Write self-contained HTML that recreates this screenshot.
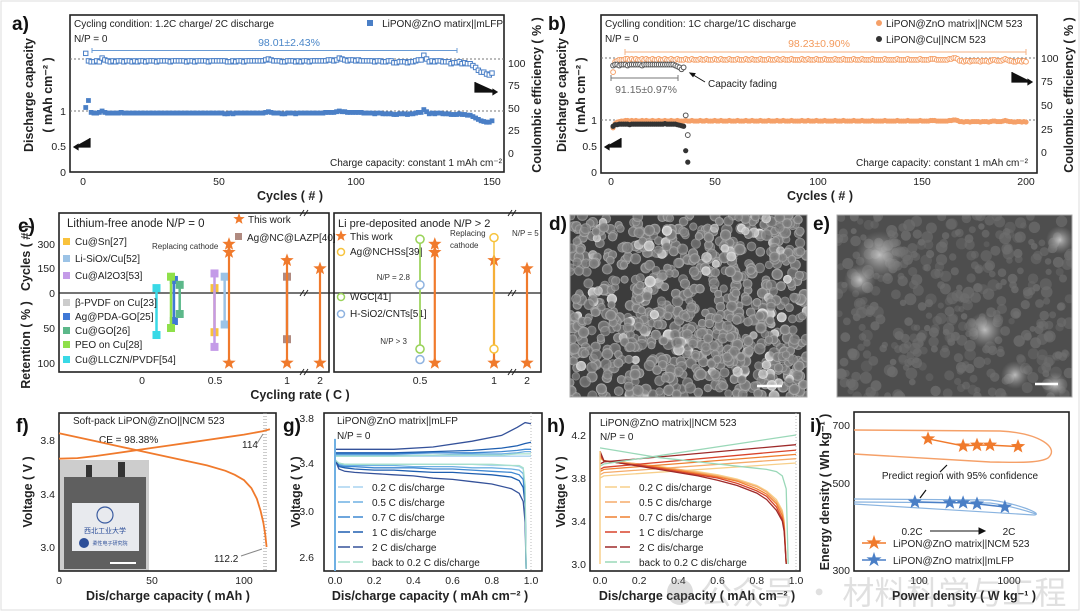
<!DOCTYPE html>
<html><head><meta charset="utf-8">
<style>
html,body{margin:0;padding:0;background:#fff;}
svg{display:block;font-family:"Liberation Sans","Noto Sans CJK SC",sans-serif;}
.t{font-size:10px;fill:#222;}
.tk{font-size:10.5px;fill:#222;}
.ti{font-size:12.5px;font-weight:bold;fill:#222;}
.pl{font-size:19px;font-weight:bold;fill:#111;}
.box{fill:none;stroke:#222;stroke-width:1.6;}
</style></head>
<body>
<svg id="fig" width="1080" height="611" viewBox="0 0 1080 611" xmlns="http://www.w3.org/2000/svg">
<defs>
<clipPath id="clipD"><rect x="570" y="215" width="237" height="182"/></clipPath>
<clipPath id="clipE"><rect x="837" y="215" width="235" height="182"/></clipPath>
<radialGradient id="ball" cx="50%" cy="50%" r="50%"><stop offset="0" stop-color="#767676"/><stop offset="0.7" stop-color="#828282"/><stop offset="1" stop-color="#b4b4b4"/></radialGradient>
<radialGradient id="ballB" cx="50%" cy="50%" r="50%"><stop offset="0" stop-color="#b9b9b9"/><stop offset="0.7" stop-color="#cacaca"/><stop offset="1" stop-color="#efefef"/></radialGradient>
<radialGradient id="blob" cx="50%" cy="50%" r="50%"><stop offset="0" stop-color="#d8d8d8"/><stop offset="1" stop-color="#9a9a9a" stop-opacity="0"/></radialGradient>
</defs>
<rect x="1" y="1" width="1078" height="609" fill="#fff" stroke="#ddd"/>

<!-- Panel a -->
<g>
<text class="pl" x="12" y="30">a)</text>
<rect class="box" x="70" y="15" width="434" height="157"/>
<line x1="70" y1="59" x2="504" y2="59" stroke="#777" stroke-dasharray="2,2"/>
<line x1="70" y1="111" x2="504" y2="111" stroke="#777" stroke-dasharray="2,2"/>
<text class="t" x="74" y="27">Cycling condition: 1.2C charge/ 2C discharge</text>
<text class="t" x="74" y="42">N/P = 0</text>
<rect x="367" y="20" width="6" height="6" fill="#4a7fc6"/>
<text class="t" x="503" y="27" text-anchor="end">LiPON@ZnO matirx||mLFP</text>
<text x="289" y="46" font-size="10.5" fill="#4a86c8" text-anchor="middle">98.01±2.43%</text>
<path d="M92,48V53M92,50.5H457M457,48V53" stroke="#6a9bd4" fill="none"/>
<text class="t" x="502" y="166" text-anchor="end">Charge capacity: constant 1 mAh cm⁻²</text>
<path d="M90,138V147H74M74,147l4,-2.5v5z" stroke="#111" fill="#111" stroke-width="1.2"/>
<path d="M475,82V92H497M497,92l-4,-2.5v5z" stroke="#111" fill="#111" stroke-width="1.2"/>
<text class="tk" x="66" y="115" text-anchor="end">1</text>
<text class="tk" x="66" y="150" text-anchor="end">0.5</text>
<text class="tk" x="66" y="176" text-anchor="end">0</text>
<text class="tk" x="508" y="67">100</text>
<text class="tk" x="508" y="89">75</text>
<text class="tk" x="508" y="112">50</text>
<text class="tk" x="508" y="134">25</text>
<text class="tk" x="508" y="157">0</text>
<text class="tk" x="83" y="185" text-anchor="middle">0</text>
<text class="tk" x="219" y="185" text-anchor="middle">50</text>
<text class="tk" x="356" y="185" text-anchor="middle">100</text>
<text class="tk" x="492" y="185" text-anchor="middle">150</text>
<text class="ti" x="290" y="200" text-anchor="middle">Cycles ( # )</text>
<text class="ti" transform="translate(33,95) rotate(-90)" text-anchor="middle">Discharge capacity</text>
<text class="ti" transform="translate(52,95) rotate(-90)" text-anchor="middle">( mAh cm⁻² )</text>
<text class="ti" transform="translate(541,95) rotate(-90)" text-anchor="middle">Coulombic efficiency ( % )</text>
<g id="gA"></g>
</g>

<!-- Panel b -->
<g>
<text class="pl" x="548" y="30">b)</text>
<rect class="box" x="601" y="15" width="436" height="158"/>
<line x1="601" y1="58" x2="1037" y2="58" stroke="#777" stroke-dasharray="2,2"/>
<line x1="601" y1="120" x2="1037" y2="120" stroke="#777" stroke-dasharray="2,2"/>
<text class="t" x="605" y="27">Cyclling condition: 1C charge/1C discharge</text>
<text class="t" x="605" y="42">N/P = 0</text>
<circle cx="879" cy="23" r="3" fill="#f5a068"/>
<text class="t" x="886" y="27">LiPON@ZnO matrix||NCM 523</text>
<circle cx="879" cy="39" r="3" fill="#333"/>
<text class="t" x="886" y="43">LiPON@Cu||NCM 523</text>
<text x="819" y="47" font-size="10.5" fill="#f39a5c" text-anchor="middle">98.23±0.90%</text>
<path d="M625,49V55M625,52H1026M1026,49V55" stroke="#f5b283" fill="none"/>
<path d="M611,75V81M611,78H678M678,75V81" stroke="#777" fill="none"/>
<text x="646" y="93" font-size="10.5" fill="#666" text-anchor="middle">91.15±0.97%</text>
<text class="t" x="708" y="87">Capacity fading</text>
<path d="M705,82L690,73M690,73l5,0.5l-2,3z" stroke="#111" fill="#111"/>
<text class="t" x="1028" y="166" text-anchor="end">Charge capacity: constant 1 mAh cm⁻²</text>
<path d="M621,138V147H605M605,147l4,-2.5v5z" stroke="#111" fill="#111" stroke-width="1.2"/>
<path d="M1012,72V82H1032M1032,82l-4,-2.5v5z" stroke="#111" fill="#111" stroke-width="1.2"/>
<text class="tk" x="597" y="124" text-anchor="end">1</text>
<text class="tk" x="597" y="150" text-anchor="end">0.5</text>
<text class="tk" x="597" y="176" text-anchor="end">0</text>
<text class="tk" x="1041" y="62">100</text>
<text class="tk" x="1041" y="85">75</text>
<text class="tk" x="1041" y="109">50</text>
<text class="tk" x="1041" y="133">25</text>
<text class="tk" x="1041" y="156">0</text>
<text class="tk" x="611" y="185" text-anchor="middle">0</text>
<text class="tk" x="715" y="185" text-anchor="middle">50</text>
<text class="tk" x="818" y="185" text-anchor="middle">100</text>
<text class="tk" x="922" y="185" text-anchor="middle">150</text>
<text class="tk" x="1026" y="185" text-anchor="middle">200</text>
<text class="ti" x="820" y="200" text-anchor="middle">Cycles ( # )</text>
<text class="ti" transform="translate(566,95) rotate(-90)" text-anchor="middle">Discharge capacity</text>
<text class="ti" transform="translate(585,95) rotate(-90)" text-anchor="middle">( mAh cm⁻² )</text>
<text class="ti" transform="translate(1073,95) rotate(-90)" text-anchor="middle">Coulombic efficiency ( % )</text>
<g id="gB"></g>
</g>

<!-- Panel c -->
<g>
<text class="pl" x="18" y="232">c)</text>
<rect class="box" x="59" y="213" width="270" height="159"/>
<rect class="box" x="334" y="213" width="207" height="159"/>
<line x1="59" y1="293" x2="541" y2="293" stroke="#222" stroke-width="1.2"/>
<g stroke="#222" stroke-width="1" fill="none">
<path d="M300,216l4,-6M304,216l4,-6M300,296l4,-6M304,296l4,-6M300,375l4,-6M304,375l4,-6"/>
<path d="M508,216l4,-6M512,216l4,-6M508,296l4,-6M512,296l4,-6M508,375l4,-6M512,375l4,-6"/>
</g>
<text x="67" y="227" font-size="11.5" fill="#222">Lithium-free anode N/P = 0</text>
<text x="338" y="227" font-size="11" fill="#222">Li pre-deposited anode N/P &gt; 2</text>
<text class="tk" x="55" y="248" text-anchor="end">300</text>
<text class="tk" x="55" y="272" text-anchor="end">150</text>
<text class="tk" x="55" y="297" text-anchor="end">0</text>
<text class="tk" x="55" y="332" text-anchor="end">50</text>
<text class="tk" x="55" y="367" text-anchor="end">100</text>
<text class="ti" transform="translate(30,258) rotate(-90)" text-anchor="middle">Cycles ( # )</text>
<text class="ti" transform="translate(30,345) rotate(-90)" text-anchor="middle">Retention ( % )</text>
<text class="tk" x="142" y="384" text-anchor="middle">0</text>
<text class="tk" x="215" y="384" text-anchor="middle">0.5</text>
<text class="tk" x="287" y="384" text-anchor="middle">1</text>
<text class="tk" x="320" y="384" text-anchor="middle">2</text>
<text class="tk" x="420" y="384" text-anchor="middle">0.5</text>
<text class="tk" x="494" y="384" text-anchor="middle">1</text>
<text class="tk" x="527" y="384" text-anchor="middle">2</text>
<text class="ti" x="300" y="399" text-anchor="middle">Cycling rate ( C )</text>
<text x="152" y="249" font-size="8" fill="#333">Replacing cathode</text>
<text x="450" y="236" font-size="8" fill="#333">Replacing</text>
<text x="450" y="248" font-size="8" fill="#333">cathode</text>
<text x="410" y="280" font-size="8" fill="#333" text-anchor="end">N/P = 2.8</text>
<text x="407" y="344" font-size="8" fill="#333" text-anchor="end">N/P &gt; 3</text>
<text x="512" y="236" font-size="8" fill="#333">N/P = 5</text>
<g id="gC"></g>
</g>

<!-- Panel d / e -->
<text class="pl" x="549" y="230">d)</text>
<g id="gD" clip-path="url(#clipD)"><rect x="570" y="215" width="237" height="182" fill="#3c3c3c"/></g>
<rect x="570" y="215" width="237" height="182" fill="none" stroke="#aaa"/>
<line x1="757" y1="386" x2="782" y2="386" stroke="#fff" stroke-width="2.5"/>
<text class="pl" x="813" y="230">e)</text>
<g id="gE" clip-path="url(#clipE)"><rect x="837" y="215" width="235" height="182" fill="#4e4e4e"/></g>
<rect x="837" y="215" width="235" height="182" fill="none" stroke="#aaa"/>
<line x1="1035" y1="384" x2="1058" y2="384" stroke="#fff" stroke-width="2.5"/>

<!-- Panel f -->
<g>
<text class="pl" x="16" y="432">f)</text>
<g>
<rect x="60" y="460" width="89" height="111" fill="#cdcdcd"/>
<rect x="86" y="465" width="6" height="14" fill="#333"/>
<rect x="118" y="462" width="7" height="17" fill="#333"/>
<rect x="64" y="477" width="82" height="92" fill="#5f5f5f"/>
<rect x="72" y="503" width="67" height="48" fill="#e8eaee"/>
<circle cx="105" cy="515" r="8" fill="none" stroke="#3b5ca0" stroke-width="1.2"/>
<text x="105" y="533" font-size="7" fill="#2d4f99" text-anchor="middle">西北工业大学</text>
<circle cx="84" cy="543" r="5" fill="#2d4f99"/>
<text x="110" y="545" font-size="5" fill="#2d4f99" text-anchor="middle">柔性电子研究院</text>
<line x1="110" y1="563" x2="136" y2="563" stroke="#fff" stroke-width="2"/>
</g>
<rect class="box" x="59" y="413" width="217" height="158"/>
<line x1="266" y1="413" x2="266" y2="571" stroke="#999" stroke-dasharray="1,2"/>
<line x1="264" y1="413" x2="264" y2="571" stroke="#999" stroke-dasharray="1,2"/>
<text class="t" x="73" y="424">Soft-pack LiPON@ZnO||NCM 523</text>
<text class="t" x="99" y="443">CE = 98.38%</text>
<text class="t" x="242" y="448">114</text>
<text class="t" x="214" y="562">112.2</text>
<path d="M256,445L263,434M241,556L262,549" stroke="#888" fill="none"/>
<text class="tk" x="55" y="444" text-anchor="end">3.8</text>
<text class="tk" x="55" y="498" text-anchor="end">3.4</text>
<text class="tk" x="55" y="551" text-anchor="end">3.0</text>
<text class="tk" x="59" y="584" text-anchor="middle">0</text>
<text class="tk" x="152" y="584" text-anchor="middle">50</text>
<text class="tk" x="244" y="584" text-anchor="middle">100</text>
<text class="ti" x="168" y="600" text-anchor="middle">Dis/charge capacity ( mAh )</text>
<text class="ti" transform="translate(32,492) rotate(-90)" text-anchor="middle">Voltage ( V )</text>
<g id="gF"></g>
</g>

<!-- Panel g -->
<g>
<text class="pl" x="283" y="432">g)</text>
<rect class="box" x="324" y="413" width="218" height="158"/>
<line x1="531" y1="413" x2="531" y2="571" stroke="#bbb" stroke-dasharray="1,2"/>
<text class="t" x="337" y="424">LiPON@ZnO matrix||mLFP</text>
<text class="t" x="337" y="439">N/P = 0</text>
<text class="tk" x="314" y="422" text-anchor="end">3.8</text>
<text class="tk" x="314" y="467" text-anchor="end">3.4</text>
<text class="tk" x="314" y="515" text-anchor="end">3.0</text>
<text class="tk" x="314" y="561" text-anchor="end">2.6</text>
<text class="ti" x="430" y="600" text-anchor="middle">Dis/charge capacity ( mAh cm⁻² )</text>
<text class="ti" transform="translate(300,492) rotate(-90)" text-anchor="middle">Voltage ( V )</text>
<g id="gG"></g>
</g>

<!-- Panel h -->
<g>
<text class="pl" x="547" y="432">h)</text>
<rect class="box" x="590" y="413" width="210" height="158"/>
<line x1="796" y1="413" x2="796" y2="571" stroke="#bbb" stroke-dasharray="1,2"/>
<text class="t" x="600" y="426">LiPON@ZnO matrix||NCM 523</text>
<text class="t" x="600" y="440">N/P = 0</text>
<text class="tk" x="586" y="439" text-anchor="end">4.2</text>
<text class="tk" x="586" y="482" text-anchor="end">3.8</text>
<text class="tk" x="586" y="525" text-anchor="end">3.4</text>
<text class="tk" x="586" y="568" text-anchor="end">3.0</text>
<text class="ti" x="697" y="600" text-anchor="middle">Dis/charge capacity ( mAh cm⁻² )</text>
<text class="ti" transform="translate(565,492) rotate(-90)" text-anchor="middle">Voltage ( V )</text>
<g id="gH"></g>
</g>

<!-- Panel i -->
<g>
<text class="pl" x="810" y="432">i)</text>
<rect class="box" x="854" y="412" width="215" height="159"/>
<path d="M854,430L1000,431C1040,433 1060,448 1048,458C1038,464 1010,462 990,462L854,454" fill="none" stroke="#f5a068" stroke-width="1.4"/>
<path d="M854,499L990,500C1015,503 1045,514 1034,515L854,504M854,502L990,503C1012,506 1030,512 1036,514" fill="none" stroke="#8ab4e0" stroke-width="1.2"/>
<text class="t" x="960" y="479" text-anchor="middle">Predict region with 95% confidence</text>
<path d="M947,465L940,472M926,490L920,498" stroke="#111" stroke-width="1.2"/>
<text class="t" x="912" y="535" text-anchor="middle">0.2C</text>
<path d="M930,531H980M985,531l-6,-3v6z" stroke="#111" fill="#111"/>
<text class="t" x="1009" y="535" text-anchor="middle">2C</text>
<text x="874" y="548" font-size="16" fill="#f07a2c" text-anchor="middle">★</text>
<line x1="862" y1="543" x2="886" y2="543" stroke="#f07a2c" stroke-width="1.5"/>
<text class="t" x="893" y="547">LiPON@ZnO matrix||NCM 523</text>
<text x="874" y="565" font-size="16" fill="#4a7fc6" text-anchor="middle">★</text>
<line x1="862" y1="560" x2="886" y2="560" stroke="#4a7fc6" stroke-width="1.5"/>
<text class="t" x="893" y="564">LiPON@ZnO matrix||mLFP</text>
<text class="tk" x="850" y="429" text-anchor="end">700</text>
<text class="tk" x="850" y="487" text-anchor="end">500</text>
<text class="tk" x="850" y="574" text-anchor="end">300</text>
<text class="tk" x="919" y="584" text-anchor="middle">100</text>
<text class="tk" x="1009" y="584" text-anchor="middle">1000</text>
<text class="ti" x="964" y="600" text-anchor="middle">Power density ( W kg⁻¹ )</text>
<text class="ti" transform="translate(829,492) rotate(-90)" text-anchor="middle">Energy density ( Wh kg⁻¹ )</text>
<g id="gI"></g>
</g>

<g opacity="0.25">
<circle cx="680" cy="592" r="13" fill="#777"/>
<text x="700" y="604" font-size="32" fill="#888" font-family="'Noto Sans CJK SC',sans-serif">公众号 · 材料科学与工程</text>
</g>
</svg>

<script>
// ---------- Panel a data ----------
const aCE = [106,98,97,97,98,97,101,99,98,97, 98,97,98,98,97,98,98,97,98,97, 98,98,97,98,98,98,97,98,98,98,
 98,97,98,98,98,98,98,97,98,98, 97,98,98,98,98,97,98,98,98,98, 98,98,97,97,98,97,98,98,97,98,
 98,98,98,98,98,98,99,100,99,98, 98,98,97,97,98,98,98,97,98,97, 98,98,97,98,98,98,98,98,98,99,
 99,98,99,101,100,99,98,99,99,98, 99,98,98,98,98,98,97,98,98,97, 97,98,98,96,96,97,97,97,96,97,
 97,98,99,99,104,100,97,98,97,98, 98,97,97,97,95,96,96,97,95,96, 95,95,93,91,88,86,86,84,83,85];
const aCap = [1.05,1.15,0.98,0.97,0.97,0.98,1.0,0.98,0.97,0.97, .97,.97,.97,.98,.97,.97,.97,.97,.97,.97,
 .97,.97,.97,.97,.97,.97,.97,.97,.97,.97, .97,.97,.97,.97,.97,.97,.97,.97,.97,.97, .97,.97,.97,.97,.97,.97,.97,.97,.97,.97,
 .97,.96,.96,.97,.96,.97,.97,.97,.97,.97, .97,.97,.97,.97,.97,.97,.98,.99,.98,.97, .97,.97,.96,.96,.97,.97,.97,.96,.97,.97,
 .97,.97,.97,.97,.97,.97,.97,.97,.98,.98, .98,.98,.99,1.0,.99,.99,.98,.98,.98,.98, .98,.98,.97,.97,.97,.97,.96,.97,.97,.96,
 .96,.96,.96,.95,.95,.96,.96,.96,.95,.96, .96,.97,.98,.98,1.02,.99,.96,.97,.96,.97, .97,.96,.96,.96,.95,.95,.95,.96,.95,.95,
 .94,.94,.92,.90,.88,.86,.85,.84,.84,.86];
// ---------- Panel b data ----------
const bCEzno = [85,96,97,98,98,98,99,99,98,99, 98,99,98,98,99,98,99,98,98,99, 98,98,99,98,98,99,98,98,99,98,
 98,99,98,98,98,99,98,98,99,98, 98,98,99,98,98,99,98,98,98,99, 98,98,99,98,98,98,99,98,98,98,
 99,98,98,98,99,98,98,99,98,98, 98,99,98,98,98,99,98,98,98,99, 98,98,99,98,98,98,99,98,98,98,
 98,99,98,98,99,98,98,98,99,98, 98,98,99,98,98,98,98,99,98,98, 98,99,98,98,98,98,99,98,98,98,
 99,98,98,98,98,99,98,98,98,98, 98,99,98,98,98,98,98,99,98,98, 98,98,99,98,98,98,98,98,99,98,
 98,98,98,99,99,99,98,98,98,98, 98,98,99,99,100,100,99,97,97,96, 97,97,96,97,97,97,97,96,97,97,
 97,96,97,98,98,97,97,97,98,99, 98,97,97,96,96,97,97,96,97,96];
const bCapZno = [0.85,0.93,0.96,0.97,0.98,0.98,0.99,0.99,0.98,0.99, .98,.99,.98,.98,.99,.98,.99,.98,.98,.99,
 .98,.98,.99,.98,.98,.99,.98,.98,.99,.98, .98,.99,.98,.98,.98,.99,.98,.98,.99,.98, .98,.98,.99,.98,.98,.99,.98,.98,.98,.99,
 .98,.98,.99,.98,.98,.98,.99,.98,.98,.98, .99,.98,.98,.98,.99,.98,.98,.99,.98,.98, .98,.99,.98,.98,.98,.99,.98,.98,.98,.99,
 .98,.98,.99,.98,.98,.98,.99,.98,.98,.98, .98,.99,.98,.98,.99,.98,.98,.98,.99,.98, .98,.98,.99,.98,.98,.98,.98,.99,.98,.98,
 .98,.99,.98,.98,.98,.98,.99,.98,.98,.98, .99,.98,.98,.98,.98,.99,.98,.98,.98,.98, .98,.99,.98,.98,.98,.98,.98,.99,.98,.98,
 .98,.98,.99,.98,.98,.98,.98,.98,.99,.98, .98,.98,.98,.99,.99,.99,.98,.98,.98,.98, .98,.98,.99,.99,1.0,1.0,.99,.97,.97,.96,
 .97,.97,.96,.97,.97,.97,.97,.96,.97,.97, .97,.96,.97,.98,.98,.97,.97,.97,.98,.99, .98,.97,.97,.96,.96,.97,.97,.96,.97,.96];
const bCEcu = [92,93,93,92,93,93,93,92,93,93, 93,93,93,93,92,93,93,93,93,93, 93,93,93,93,93,93,93,93,93,93, 92,91,90,88,90,39,18];
const bCapCu = [0.88,0.91,0.91,0.92,0.92,0.92,0.92,0.92,0.91,0.92, 0.92,0.92,0.92,0.92,0.92,0.92,0.92,0.92,0.92,0.92,
 0.92,0.92,0.92,0.92,0.92,0.93,0.92,0.92,0.92,0.92, 0.92,0.91,0.90,0.89,0.88,0.41,0.19];
// ---------- Panel c data ----------
const refNames = ["Cu@Sn[27]","Li-SiOx/Cu[52]","Cu@Al2O3[53]","β-PVDF on Cu[23]","Ag@PDA-GO[25]","Cu@GO[26]","PEO on Cu[28]","Cu@LLCZN/PVDF[54]","Ag@NC@LAZP[40]"];
const refRates = [0.5,0.57,0.5,0.22,0.22,0.26,0.2,0.1,1];
const refCycles = [30,100,120,80,80,50,100,30,100];
const refRetention = [56,45,77,40,40,30,50,60,66];
const refColors = ["#f9c23c","#9cc3e6","#c49be8","#cccccc","#3f78d6","#5cb88a","#8fe04a","#39d9e6","#b08a80"];
const refLegendY = [245,262,279,306,320,334,348,363];
const twRates = [0.6,0.6,1,2];
const twCycles = [300,250,200,150];
const twRetRates = [0.6,1,2];
const twRetention = [100,100,100];
const rRefNames = ["Ag@NCHSs[39]","WGC[41]","H-SiO2/CNTs[51]","Ag@NCHSs N/P=5"];
const rRefRates = [0.5,0.5,0.5,1];
const rRefCycles = [330,330,50,340];
const rRefRetention = [80,80,95,80];
const rRefColors = ["#9ad35a","#9ad35a","#8fb3e0","#f7c33c"];
// ---------- Panel f data ----------
const fChargeCap = [0,10,20,30,40,50,60,70,80,90,100,110,114];
const fChargeV = [3.66,3.665,3.68,3.70,3.72,3.74,3.76,3.78,3.80,3.82,3.84,3.865,3.88];
const fDisCap = [0,10,20,30,40,50,60,70,80,90,95,100,104,107,109,110.5,111.5,112.2];
const fDisV = [3.85,3.82,3.79,3.76,3.73,3.70,3.67,3.64,3.61,3.57,3.54,3.50,3.44,3.36,3.27,3.18,3.09,3.00];
// ---------- Panel g data ----------
const gRates = ["0.2 C dis/charge","0.5 C dis/charge","0.7 C dis/charge","1 C dis/charge","2 C dis/charge","back to 0.2 C dis/charge"];
const gDisCap = [0,0.02,0.05,0.1,0.2,0.3,0.4,0.5,0.6,0.7,0.8,0.9,0.94,0.96,0.97,0.975];
const gDisV = [
 [3.44,3.41,3.40,3.40,3.40,3.40,3.40,3.40,3.40,3.40,3.39,3.39,3.38,3.36,3.20,2.50],
 [3.44,3.40,3.39,3.39,3.39,3.39,3.38,3.38,3.38,3.37,3.37,3.36,3.35,3.32,3.15,2.50],
 [3.44,3.39,3.38,3.38,3.37,3.37,3.37,3.36,3.36,3.35,3.34,3.33,3.31,3.27,3.10,2.50],
 [3.44,3.38,3.37,3.36,3.35,3.35,3.34,3.33,3.33,3.32,3.31,3.29,3.26,3.20,3.05,2.50],
 [3.44,3.36,3.34,3.33,3.32,3.31,3.30,3.28,3.27,3.25,3.23,3.19,3.15,3.08,2.90,2.50],
 [3.44,3.41,3.40,3.40,3.40,3.40,3.40,3.40,3.40,3.40,3.40,3.39,3.39,3.37,3.22,2.50]];
const gChgCap = [0,0.02,0.1,0.3,0.5,0.7,0.85,0.93,0.97,1.0];
const gChgV = [
 [3.47,3.47,3.47,3.47,3.47,3.47,3.47,3.47,3.47,3.47],
 [3.48,3.48,3.48,3.48,3.48,3.49,3.49,3.50,3.51,3.51],
 [3.49,3.49,3.49,3.49,3.50,3.50,3.51,3.52,3.53,3.53],
 [3.50,3.50,3.50,3.50,3.51,3.52,3.54,3.56,3.58,3.59],
 [3.53,3.53,3.53,3.53,3.55,3.60,3.65,3.72,3.76,3.75],
 [3.47,3.47,3.47,3.47,3.48,3.48,3.48,3.49,3.49,3.49]];
// ---------- Panel h data ----------
const hRates = ["0.2 C dis/charge","0.5 C dis/charge","0.7 C dis/charge","1 C dis/charge","2 C dis/charge","back to 0.2 C dis/charge"];
const hDisCap = [0,0.02,0.1,0.2,0.3,0.4,0.5,0.6,0.7,0.8,0.85,0.9,0.93,0.94,0.95];
const hDisV = [
 [3.98,3.96,3.95,3.93,3.91,3.88,3.86,3.83,3.79,3.73,3.68,3.60,3.50,3.40,3.00],
 [3.99,3.96,3.95,3.93,3.90,3.88,3.85,3.82,3.78,3.72,3.67,3.58,3.48,3.38,3.00],
 [4.00,3.96,3.94,3.92,3.90,3.87,3.84,3.81,3.77,3.70,3.65,3.56,3.45,3.35,3.00],
 [4.02,3.96,3.94,3.92,3.89,3.86,3.83,3.80,3.75,3.68,3.63,3.53,3.42,3.32,3.00],
 [4.05,3.96,3.94,3.91,3.88,3.85,3.82,3.78,3.73,3.66,3.60,3.50,3.40,3.30,3.00]];
const hBackCap = [0,0.1,0.2,0.3,0.4,0.5,0.6,0.7,0.8,0.85,0.9,0.93,0.95,0.96];
const hBackV = [4.08,4.05,4.02,3.99,3.97,3.95,3.93,3.91,3.89,3.88,3.86,3.82,3.70,3.00];
const hChgCap = [0,0.02,1.0];
const hChgV = [
 [3.80,3.82,3.94],
 [3.83,3.85,3.98],
 [3.86,3.88,4.02],
 [3.88,3.90,4.06],
 [3.93,3.95,4.11],
 [3.91,3.93,4.20]];
// ---------- Panel i data ----------
const iPowerNCM = [126,309,441,615,1260];
const iEnergyNCM = [646,620,623,623,618];
const iPowerLFP = [90,220,309,441,900];
const iEnergyLFP = [448,446,446,443,435];

const NS = "http://www.w3.org/2000/svg";
function mk(tag, attrs, parent){const e=document.createElementNS(NS,tag);for(const k in attrs)e.setAttribute(k,attrs[k]);parent.appendChild(e);return e;}
function pathFrom(xs, ys, fx, fy){return xs.map((x,i)=>(i?"L":"M")+fx(x).toFixed(1)+","+fy(ys[i]).toFixed(1)).join("");}
function starPath(cx,cy,R){const r=R*0.42;let d="";for(let i=0;i<10;i++){const a=-Math.PI/2+i*Math.PI/5;const rr=i%2?r:R;d+=(i?"L":"M")+(cx+rr*Math.cos(a)).toFixed(1)+","+(cy+rr*Math.sin(a)).toFixed(1);}return d+"Z";}

// ---- Panel a
const gA = document.getElementById("gA");
const xA = c => 83 + c*(492-83)/150;
const yAcap = v => 111 + (1-v)*70;
const yAce = p => 59 + (100-p)*0.94;
aCE.forEach((v,i)=>{
  const m = mk("rect",{x:xA(i+1)-2.2,y:yAce(v)-2.2,width:4.4,height:4.4,fill:"#fff",stroke:"#4a7fc6","stroke-width":1},gA);
  
  
});
aCap.forEach((v,i)=>{
  const m = mk("rect",{x:xA(i+1)-2.4,y:yAcap(v)-2.4,width:4.8,height:4.8,fill:"#4a7fc6"},gA);
  
  
});

// ---- Panel b
const gB = document.getElementById("gB");
const xB = c => 611 + c*(1026-611)/200;
const yBcap = v => 120 + (1-v)*52;
const yBce = p => 58 + (100-p)*0.94;
bCEzno.forEach((v,i)=>{
  const m = mk("circle",{cx:xB(i+1),cy:yBce(v),r:2.4,fill:"#fff",stroke:"#f5a068","stroke-width":1},gB);
  
  
});
bCapZno.forEach((v,i)=>{
  const m = mk("circle",{cx:xB(i+1),cy:yBcap(v),r:2.6,fill:"#f5a068"},gB);
  
  
});
bCEcu.forEach((v,i)=>{
  const m = mk("circle",{cx:xB(i+1),cy:yBce(v),r:2.4,fill:"#fff",stroke:"#555","stroke-width":1},gB);
  
  
});
bCapCu.forEach((v,i)=>{
  const m = mk("circle",{cx:xB(i+1),cy:yBcap(v),r:2.6,fill:"#333"},gB);
  
  
});

// ---- Panel c
const gC = document.getElementById("gC");
const yCyc = n => 293 - n*0.163;
const yRet = r => 293 + r*0.7;
const xCL = r => r<=1 ? 142 + r*145 : 320;
const xCR = r => r<=1 ? 346 + r*148 : 527;
refRates.forEach((r,i)=>{
  const x = xCL(r);
  const ln = mk("line",{x1:x,y1:yCyc(refCycles[i]),x2:x,y2:yRet(refRetention[i]),stroke:refColors[i],"stroke-width":2.5},gC);
  
  
  [yCyc(refCycles[i]),yRet(refRetention[i])].forEach(y=>{
    const m = mk("rect",{x:x-4,y:y-4,width:8,height:8,fill:refColors[i]},gC);
    
    
  });
});
refLegendY.forEach((y,i)=>{
  const m = mk("rect",{x:63,y:y-7,width:7,height:7,fill:refColors[i]},gC);
  
  
  const t = mk("text",{x:75,y:y,"font-size":10,fill:"#222"},gC);
  t.textContent = refNames[i];
  
  
});
{
  const m = mk("rect",{x:235,y:233,width:7,height:7,fill:refColors[8]},gC);
  
  
  const t = mk("text",{x:247,y:241,"font-size":10,fill:"#222"},gC);
  t.textContent = refNames[8];
  
  
  const s = mk("path",{d:starPath(239,219,6),fill:"#f07a2c"},gC);
  
  
  const t2 = mk("text",{x:248,y:223,"font-size":10,fill:"#222"},gC);
  t2.textContent = "This work";
  
  
  const s2 = mk("path",{d:starPath(341,236,6),fill:"#f07a2c"},gC);
  
  
  const t3 = mk("text",{x:350,y:240,"font-size":10,fill:"#222"},gC);
  t3.textContent = "This work";
  
  
  const legR = [["#f7c33c",255,"Ag@NCHSs[39]"],["#9ad35a",300,"WGC[41]"],["#8fb3e0",317,"H-SiO2/CNTs[51]"]];
  legR.forEach(l=>{
    const c = mk("circle",{cx:341,cy:l[1]-3,r:3.5,fill:"#fff",stroke:l[0],"stroke-width":1.5},gC);
    
    
    const tt = mk("text",{x:350,y:l[1],"font-size":10,fill:"#222"},gC);
    tt.textContent = l[2];
    
    
  });
}
[[xCL,0],[xCR,1]].forEach(([fx,side])=>{
  twRetRates.forEach((r,i)=>{
    const top = Math.max(...twCycles.filter((c,k)=>twRates[k]===r));
    const ln = mk("line",{x1:fx(r),y1:yCyc(top),x2:fx(r),y2:yRet(twRetention[i]),stroke:"#f07a2c","stroke-width":2.2},gC);
    
    
    const s = mk("path",{d:starPath(fx(r),yRet(twRetention[i]),7),fill:"#f07a2c"},gC);
    
    
  });
  twRates.forEach((r,i)=>{
    const s = mk("path",{d:starPath(fx(r),yCyc(twCycles[i]),7),fill:"#f07a2c"},gC);
    
    
  });
});
rRefRates.forEach((r,i)=>{
  const x = xCR(r);
  if(i!==2){
    const ln = mk("line",{x1:x,y1:yCyc(rRefCycles[i]),x2:x,y2:yRet(rRefRetention[i]),stroke:rRefColors[i],"stroke-width":1.5},gC);
    
    
  }
  [yCyc(rRefCycles[i]),yRet(rRefRetention[i])].forEach(y=>{
    const m = mk("circle",{cx:x,cy:y,r:4,fill:"#fff",stroke:rRefColors[i],"stroke-width":1.5},gC);
    
    
  });
});

// ---- SEM images (texture, not data)
let seed = 7;
function rnd(){seed=(seed*16807)%2147483647;return (seed-1)/2147483646;}
const gD = document.getElementById("gD");
for(let i=0;i<850;i++){
  const x=570+rnd()*237, y=215+rnd()*182, br=rnd()>0.9;
  const c = mk("circle",{cx:x.toFixed(1),cy:y.toFixed(1),r:(4+rnd()*1.8).toFixed(1),fill:br?"url(#ballB)":"url(#ball)",opacity:(0.7+rnd()*0.3).toFixed(2)},gD);
  
  
}
const gE = document.getElementById("gE");
for(let i=0;i<420;i++){
  const x=837+rnd()*235, y=215+rnd()*182;
  const c = mk("circle",{cx:x.toFixed(1),cy:y.toFixed(1),r:(3+rnd()*3).toFixed(1),fill:"#6e6e6e",opacity:(0.4+rnd()*0.4).toFixed(2)},gE);
  
  
}
[[880,255,24],[985,330,18],[1015,375,14],[1055,385,13],[860,280,16],[1060,240,14]].forEach(b=>{
  const c = mk("circle",{cx:b[0],cy:b[1],r:b[2],fill:"url(#blob)",opacity:0.8},gE);
  
  
});

// ---- Panel f
const gF = document.getElementById("gF");
const xF = c => 59 + c*(244-59)/100;
const yF = v => 440 + (3.8-v)*(547-440)/0.8;
{
  const p1 = mk("path",{d:pathFrom(fChargeCap,fChargeV,xF,yF),fill:"none",stroke:"#f07a2c","stroke-width":1.8},gF);
  
  
  const p2 = mk("path",{d:pathFrom(fDisCap,fDisV,xF,yF),fill:"none",stroke:"#f07a2c","stroke-width":1.8},gF);
  
  
}

// ---- Panel g
const gG = document.getElementById("gG");
const xG = c => 335 + c*(531-335);
const yG = v => 418 + (3.8-v)*(557-418)/1.2;
const gCols = ["#a9d3f0","#6fb0e3","#3f88d2","#1f5fb0","#35529a","#a6e0cc"];
gRates.forEach((name,i)=>{
  const p = mk("path",{d:pathFrom(gDisCap,gDisV[i],xG,yG),fill:"none",stroke:gCols[i],"stroke-width":1.3},gG);
  
  
  const q = mk("path",{d:pathFrom(gChgCap,gChgV[i],xG,yG),fill:"none",stroke:gCols[i],"stroke-width":1.3},gG);
  
  
  const ly = 487 + i*15;
  const l = mk("path",{d:`M338,${ly}h12M353,${ly}h10`,stroke:gCols[i],"stroke-width":1.6,fill:"none"},gG);
  
  
  const t = mk("text",{x:372,y:ly+4,"font-size":10,fill:"#222"},gG);
  t.textContent = name;
  
  
});
{
  const v = mk("line",{x1:xG(0),y1:yG(3.62),x2:xG(0),y2:571,stroke:"#6fb0e3","stroke-width":2},gG);
  
  
}
["0.0","0.2","0.4","0.6","0.8","1.0"].forEach((s,i)=>{
  const t = mk("text",{x:xG(i*0.2),y:584,"font-size":10.5,fill:"#222","text-anchor":"middle"},gG);
  t.textContent = s;
  
  
});

// ---- Panel h
const gH = document.getElementById("gH");
const xH = c => 600 + c*(796-600);
const yH = v => 435 + (4.2-v)*(564-435)/1.2;
const hCols = ["#f7cf8a","#f5ab6a","#ef8030","#d9442b","#9e2a2a","#9ad8b8"];
hRates.forEach((name,i)=>{
  const q = mk("path",{d:pathFrom(hChgCap,hChgV[i],xH,yH),fill:"none",stroke:hCols[i],"stroke-width":1.3},gH);
  
  
  if(i<5){
    const p = mk("path",{d:pathFrom(hDisCap,hDisV[i],xH,yH),fill:"none",stroke:hCols[i],"stroke-width":1.3},gH);
    
    
  }
  const ly = 487 + i*15;
  const l = mk("path",{d:`M605,${ly}h12M620,${ly}h10`,stroke:hCols[i],"stroke-width":1.6,fill:"none"},gH);
  
  
  const t = mk("text",{x:639,y:ly+4,"font-size":10,fill:"#222"},gH);
  t.textContent = name;
  
  
});
{
  const p = mk("path",{d:pathFrom(hBackCap,hBackV,xH,yH),fill:"none",stroke:hCols[5],"stroke-width":1.3},gH);
  
  
  const v = mk("line",{x1:xH(0),y1:yH(4.05),x2:xH(0),y2:yH(3.0),stroke:"#f7cf8a","stroke-width":1.5},gH);
  
  
}
["0.0","0.2","0.4","0.6","0.8","1.0"].forEach((s,i)=>{
  const t = mk("text",{x:xH(i*0.2),y:584,"font-size":10.5,fill:"#222","text-anchor":"middle"},gH);
  t.textContent = s;
  
  
});

// ---- Panel i
const gI = document.getElementById("gI");
const xI = p => 919 + (Math.log10(p)-2)*90;
const yI = e => 425 + (Math.log10(700)-Math.log10(e))*397;
[[iPowerNCM,iEnergyNCM,"#f07a2c","ncm"],[iPowerLFP,iEnergyLFP,"#4a7fc6","lfp"]].forEach(([P,E,col,key])=>{
  const l = mk("path",{d:pathFrom(P,E,xI,yI),fill:"none",stroke:col,"stroke-width":1.5},gI);
  
  
  P.forEach((p,k)=>{
    const s = mk("path",{d:starPath(xI(p),yI(E[k]),7.5),fill:col},gI);
    
    
  });
});
</script>
</body></html>
